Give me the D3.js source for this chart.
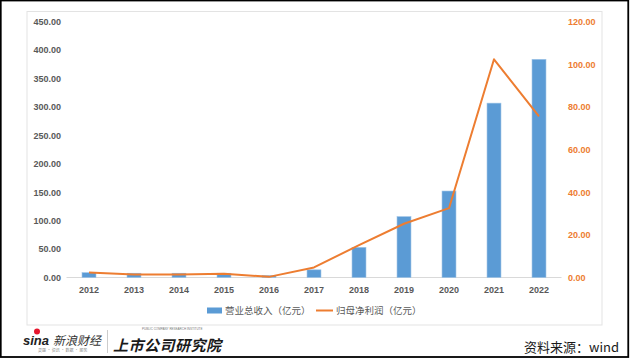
<!DOCTYPE html>
<html>
<head>
<meta charset="utf-8">
<script src="https://cdn.jsdelivr.net/npm/d3@7"></script>
<style>
  html, body { margin: 0; padding: 0; background: #fff; }
  svg { display: block; }
</style>
</head>
<body>
<div id="chart"></div>
<script>
const years = ['2012', '2013', '2014', '2015', '2016', '2017', '2018', '2019', '2020', '2021', '2022'];
const revenue = [8.5, 7.5, 7.5, 7.5, 3.5, 13.5, 53, 107, 152, 306.5, 383.5];
const netProfit = [2.3, 1.4, 1.4, 1.8, 0.3, 4.7, 15.2, 25.2, 32.5, 102.3, 75.5];
const leftTicks = [0, 50, 100, 150, 200, 250, 300, 350, 400, 450];
const rightTicks = [0, 20, 40, 60, 80, 100, 120];
const legendNames = ['营业总收入（亿元）', '归母净利润（亿元）'];

const width = 630, height = 359;
const barColor = '#5b9bd5', lineColor = '#ed7d31';
const cjk = '"Noto Sans CJK SC", "Noto Sans", sans-serif';
const num = '"Liberation Sans", Arial, sans-serif';

const svg = d3.select('#chart').append('svg')
  .attr('width', width).attr('height', height);

// outer black frame
svg.append('rect').attr('x', 0.75).attr('y', 0.5).attr('width', 627.5).attr('height', 356.5)
  .attr('fill', 'none').attr('stroke', '#000').attr('stroke-width', 1.8);

// chart area box
svg.append('rect').attr('x', 27).attr('y', 11.5).attr('width', 575).attr('height', 313.5)
  .attr('fill', '#fff').attr('stroke', '#e3e3e3').attr('stroke-width', 1);

const x = d3.scaleBand().domain(years).range([66.5, 561.5]).paddingInner(0.69).paddingOuter(0.345);
const y = d3.scaleLinear().domain([0, 450]).range([277.5, 21.5]);
const y2 = d3.scaleLinear().domain([0, 120]).range([277.5, 21.5]);

// baseline
svg.append('line').attr('x1', 66.5).attr('x2', 561.5)
  .attr('y1', y(0)).attr('y2', y(0)).attr('stroke', '#d9d9d9');

// left axis
const gl = svg.append('g').attr('transform', 'translate(61,0)')
  .call(d3.axisLeft(y).tickValues(leftTicks).tickFormat(d3.format('.2f')).tickSize(0).tickPadding(0));
gl.select('.domain').remove();
gl.selectAll('text').attr('font-family', num).attr('font-size', 9).attr('font-weight', 'bold')
  .attr('fill', '#595959');

// right axis
const gr = svg.append('g').attr('transform', 'translate(568,0)')
  .call(d3.axisRight(y2).tickValues(rightTicks).tickFormat(d3.format('.2f')).tickSize(0).tickPadding(0));
gr.select('.domain').remove();
gr.selectAll('text').attr('font-family', num).attr('font-size', 9).attr('font-weight', 'bold')
  .attr('fill', lineColor);

// x axis
const gx = svg.append('g').attr('transform', `translate(0,${y(0)})`)
  .call(d3.axisBottom(x).tickSize(0).tickPadding(9));
gx.select('.domain').remove();
gx.selectAll('text').attr('font-family', num).attr('font-size', 9).attr('font-weight', 'bold')
  .attr('fill', '#595959');

// bars
svg.append('g').selectAll('rect')
  .data(revenue)
  .join('rect')
  .attr('x', (d, i) => x(years[i]))
  .attr('y', d => y(d))
  .attr('width', x.bandwidth())
  .attr('height', d => y(0) - y(d))
  .attr('fill', barColor)
  .attr('stroke', '#9dc3e6').attr('stroke-width', 0.6);

// line
const line = d3.line()
  .x((d, i) => x(years[i]) + x.bandwidth() / 2)
  .y(d => y2(d));
svg.append('path').datum(netProfit)
  .attr('d', line)
  .attr('fill', 'none').attr('stroke', lineColor).attr('stroke-width', 2)
  .attr('stroke-linejoin', 'round');

// legend
const lg = svg.append('g').attr('font-family', cjk).attr('font-size', 9.5).attr('fill', '#595959');
lg.append('rect').attr('x', 207).attr('y', 307.5).attr('width', 15).attr('height', 6).attr('fill', barColor);
lg.append('text').attr('x', 225).attr('y', 314).text(legendNames[0]);
lg.append('line').attr('x1', 316).attr('x2', 333).attr('y1', 310.5).attr('y2', 310.5)
  .attr('stroke', lineColor).attr('stroke-width', 2);
lg.append('text').attr('x', 336).attr('y', 314).text(legendNames[1]);

// footer: sina logo
const ft = svg.append('g');
ft.append('circle').attr('cx', 37).attr('cy', 331.5).attr('r', 3).attr('fill', '#e6162d');
ft.append('text').attr('x', 23).attr('y', 345).attr('font-family', num).attr('font-size', 13)
  .attr('font-weight', 'bold').attr('font-style', 'italic').attr('fill', '#222').text('sina');
ft.append('text').attr('x', 53).attr('y', 345).attr('font-family', cjk).attr('font-size', 12)
  .attr('font-style', 'italic').attr('fill', '#333').text('新浪财经');
ft.append('text').attr('x', 38).attr('y', 352).attr('font-family', cjk).attr('font-size', 4)
  .attr('fill', '#888').text('灵感 · 资讯 · 数据 · 服务');
ft.append('line').attr('x1', 107.5).attr('x2', 107.5).attr('y1', 330).attr('y2', 353)
  .attr('stroke', '#ccc');
ft.append('text').attr('x', 142).attr('y', 330).attr('font-family', num).attr('font-size', 3)
  .attr('fill', '#777').text('PUBLIC COMPANY RESEARCH INSTITUTE');
ft.append('text').attr('x', 113).attr('y', 351).attr('font-family', cjk).attr('font-size', 15)
  .attr('font-weight', 'bold').attr('font-style', 'italic').attr('fill', '#1a1a1a')
  .attr('textLength', 108).text('上市公司研究院');

// source
svg.append('text').attr('x', 619).attr('y', 352).attr('text-anchor', 'end')
  .attr('font-family', cjk).attr('font-size', 13).attr('fill', '#1a1a1a').text('资料来源：wind');
</script>
</body>
</html>
